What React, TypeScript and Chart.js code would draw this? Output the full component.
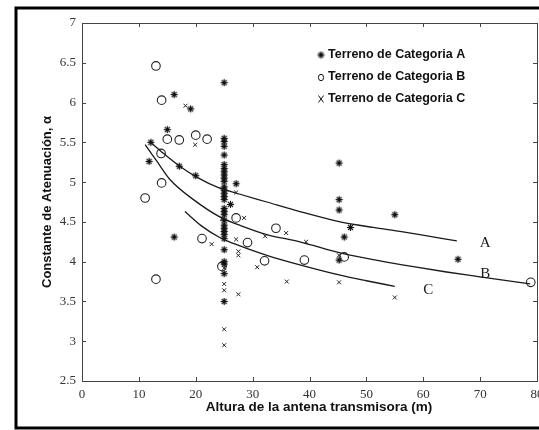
import { useEffect, useRef } from "react";
import { Chart, registerables } from "chart.js";
Chart.register(...registerables);

// Axis ticks
const xTickValues = [0, 10, 20, 30, 40, 50, 60, 70, 80];
const yTickValues = [2.5, 3, 3.5, 4, 4.5, 5, 5.5, 6, 6.5, 7];

// Terreno de Categoria A (asterisks)
const catA: [number, number][] = [
  [12.1, 5.5], [11.8, 5.26], [15.0, 5.66], [16.2, 6.1], [19.1, 5.92], [17.1, 5.2],
  [20.0, 5.08], [16.2, 4.31], [25, 6.25], [26.1, 4.72], [27.1, 4.98],
  [45.2, 5.24], [45.2, 4.78], [45.2, 4.65], [45.2, 4.02], [46.1, 4.31], [47.2, 4.43],
  [55, 4.59], [66.1, 4.03],
];
// Categoria A measurements at 25 m
const catAColumn25 = [
  5.55, 5.51, 5.45, 5.34, 5.22, 5.17, 5.13, 5.09, 5.05, 5.01, 4.94, 4.9, 4.86, 4.82,
  4.78, 4.67, 4.63, 4.59, 4.52, 4.46, 4.42, 4.38, 4.34, 4.29, 4.15, 4.0, 3.97, 3.85, 3.5,
];

// Terreno de Categoria B (circles)
const catB: [number, number][] = [
  [11.1, 4.8], [13.0, 6.46], [14.0, 6.03], [13.0, 3.78], [13.9, 5.36], [14.0, 4.99],
  [15.0, 5.54], [17.1, 5.53], [20.0, 5.59], [22.0, 5.54], [21.1, 4.29], [24.6, 3.94],
  [27.1, 4.55], [29.1, 4.24], [32.1, 4.01], [34.1, 4.42], [39.1, 4.02], [46.1, 4.06],
  [78.9, 3.74],
];

// Terreno de Categoria C (crosses)
const catC: [number, number][] = [
  [18.2, 5.96], [19.9, 5.47], [22.8, 4.22], [24.6, 4.54], [25, 3.99], [25, 3.92],
  [25, 3.72], [25, 3.64], [25, 3.15], [25, 2.95], [27.1, 4.87], [27.1, 4.28],
  [27.5, 4.13], [27.5, 4.08], [27.5, 3.59], [28.5, 4.55], [30.8, 3.93], [32.2, 4.32],
  [35.9, 4.36], [36, 3.75], [39.4, 4.25], [45.2, 4.08], [45.2, 3.74], [55, 3.55],
];

// Fitted curves
const curveA: [number, number][] = [
  [11.9, 5.51], [14, 5.38], [17, 5.21], [20.5, 5.05], [24, 4.93], [27.2, 4.86],
  [32.5, 4.75], [38.3, 4.63], [45.4, 4.5], [51.2, 4.43], [55.9, 4.38], [59.4, 4.34], [65.9, 4.26],
];
const curveB: [number, number][] = [
  [11.1, 5.47], [13.1, 5.27], [15.5, 5.03], [19.6, 4.78], [24.3, 4.56], [28, 4.45],
  [32.5, 4.34], [38.3, 4.25], [45.4, 4.11], [52.4, 4.01], [58, 3.94], [64.1, 3.87],
  [70, 3.81], [78.8, 3.72],
];
const curveC: [number, number][] = [
  [18.1, 4.63], [21, 4.45], [24.3, 4.3], [26.6, 4.23], [32.5, 4.08], [38.3, 3.96],
  [45.4, 3.83], [50, 3.76], [55, 3.69],
];

// Legend and labels
const legendLabels = ["Terreno de Categoria A", "Terreno de Categoria B", "Terreno de Categoria C"];
const curveLabels: { text: string; x: number; y: number }[] = [
  { text: "A", x: 70.9, y: 4.24 },
  { text: "B", x: 70.9, y: 3.845 },
  { text: "C", x: 60.9, y: 3.64 },
];
const xTitle = "Altura de la antena transmisora (m)";
const yTitle = "Constante de Atenuación, α";

function makeStar(): HTMLCanvasElement {
  const c = document.createElement("canvas");
  c.width = 9;
  c.height = 9;
  const g = c.getContext("2d")!;
  const cx = 4.5, cy = 4.5, r = 3.6;
  g.strokeStyle = "#111";
  g.lineWidth = 1.1;
  for (let i = 0; i < 4; i++) {
    const a = (i * Math.PI) / 4;
    g.beginPath();
    g.moveTo(cx - r * Math.cos(a), cy - r * Math.sin(a));
    g.lineTo(cx + r * Math.cos(a), cy + r * Math.sin(a));
    g.stroke();
  }
  g.fillStyle = "#111";
  g.beginPath();
  g.arc(cx, cy, 2, 0, Math.PI * 2);
  g.fill();
  return c;
}

const W = 560;
const H = 430;

export default function App() {
  const ref = useRef<HTMLCanvasElement>(null);
  useEffect(() => {
    document.body.style.margin = "0";
    const canvas = ref.current!;
    const star = makeStar();
    const pts = (arr: [number, number][]) => arr.map(([x, y]) => ({ x, y }));
    const aData = [...pts(catA), ...catAColumn25.map((y) => ({ x: 25, y }))];

    const decor = {
      id: "decor",
      beforeDatasetsDraw(chart: any) {
        const { ctx, chartArea: a, scales } = chart;
        ctx.save();
        ctx.strokeStyle = "#444";
        ctx.lineWidth = 1;
        ctx.strokeRect(a.left + 0.5, a.top + 0.5, a.right - a.left, a.bottom - a.top);
        const tl = 4;
        ctx.beginPath();
        xTickValues.forEach((v) => {
          const px = Math.round(scales.x.getPixelForValue(v)) + 0.5;
          ctx.moveTo(px, a.bottom);
          ctx.lineTo(px, a.bottom - tl);
          ctx.moveTo(px, a.top);
          ctx.lineTo(px, a.top + tl);
        });
        yTickValues.forEach((v) => {
          const py = Math.round(scales.y.getPixelForValue(v)) + 0.5;
          ctx.moveTo(a.left, py);
          ctx.lineTo(a.left + tl, py);
          ctx.moveTo(a.right, py);
          ctx.lineTo(a.right - tl, py);
        });
        ctx.stroke();
        ctx.restore();
      },
      afterDraw(chart: any) {
        const { ctx, chartArea: a, scales } = chart;
        ctx.save();
        // axis titles
        ctx.fillStyle = "#111";
        ctx.textAlign = "center";
        ctx.textBaseline = "middle";
        ctx.font = "bold 13.5px 'Liberation Sans', Arial, sans-serif";
        ctx.fillText(xTitle, 319, 407);
        ctx.save();
        ctx.translate(47.5, (a.top + a.bottom) / 2);
        ctx.rotate(-Math.PI / 2);
        ctx.font = "bold 13px 'Liberation Sans', Arial, sans-serif";
        ctx.fillText(yTitle, 0, 0);
        ctx.restore();
        // legend
        const ly = [55, 77, 99];
        const mx = 321;
        ctx.font = "bold 12.5px 'Liberation Sans', Arial, sans-serif";
        ctx.textAlign = "left";
        legendLabels.forEach((t, i) => ctx.fillText(t, 328, ly[i]));
        ctx.drawImage(star, mx - 4.5, ly[0] - 4.5);
        ctx.strokeStyle = "#111";
        ctx.lineWidth = 1;
        ctx.beginPath();
        ctx.ellipse(mx, ly[1] + 0.5, 2.6, 3.2, 0, 0, Math.PI * 2);
        ctx.stroke();
        ctx.beginPath();
        ctx.moveTo(mx - 2.5, ly[2] - 3.5);
        ctx.lineTo(mx + 2.5, ly[2] + 3.5);
        ctx.moveTo(mx + 2.5, ly[2] - 3.5);
        ctx.lineTo(mx - 2.5, ly[2] + 3.5);
        ctx.stroke();
        // curve labels
        ctx.font = "15px 'Liberation Serif', 'Times New Roman', serif";
        ctx.textAlign = "center";
        ctx.fillStyle = "#1a1a1a";
        curveLabels.forEach((c) =>
          ctx.fillText(c.text, scales.x.getPixelForValue(c.x), scales.y.getPixelForValue(c.y))
        );
        // outer frame
        ctx.strokeStyle = "#000";
        ctx.lineWidth = 3;
        ctx.strokeRect(16, 8, W, 420);
        ctx.restore();
      },
    };

    const lineStyle = {
      type: "line" as const,
      showLine: true,
      pointRadius: 0,
      borderColor: "#1a1a1a",
      borderWidth: 1.3,
      tension: 0.4,
      cubicInterpolationMode: "monotone" as const,
      fill: false,
    };

    const chart = new Chart(canvas, {
      type: "scatter",
      data: {
        datasets: [
          { ...lineStyle, label: "A", data: pts(curveA) },
          { ...lineStyle, label: "B", data: pts(curveB) },
          { ...lineStyle, label: "C", data: pts(curveC) },
          {
            label: legendLabels[0],
            data: aData,
            pointStyle: star as any,
            pointRadius: 4,
            borderColor: "#111",
            backgroundColor: "#111",
          },
          {
            label: legendLabels[1],
            data: pts(catB),
            pointStyle: "circle",
            pointRadius: 4.3,
            borderWidth: 1.1,
            borderColor: "#222",
            backgroundColor: "rgba(0,0,0,0)",
          },
          {
            label: legendLabels[2],
            data: pts(catC),
            pointStyle: "crossRot",
            pointRadius: 2.8,
            borderWidth: 1,
            borderColor: "#222",
          },
        ] as any,
      },
      options: {
        responsive: false,
        animation: false,
        events: [],
        layout: { padding: { top: 23, right: W - 537, left: 0, bottom: 0 } },
        plugins: { legend: { display: false }, tooltip: { enabled: false } },
        scales: {
          x: {
            type: "linear",
            min: 0,
            max: 80,
            afterFit: (s: any) => {
              s.height = H - 381;
            },
            grid: { display: false, drawTicks: false },
            border: { display: false },
            ticks: {
              stepSize: 10,
              autoSkip: false,
              maxRotation: 0,
              padding: 6,
              color: "#333",
              font: { family: "'Liberation Serif', 'Times New Roman', serif", size: 13 },
            },
          },
          y: {
            type: "linear",
            min: 2.5,
            max: 7,
            afterFit: (s: any) => {
              s.width = 82;
            },
            grid: { display: false, drawTicks: false },
            border: { display: false },
            ticks: {
              stepSize: 0.5,
              autoSkip: false,
              padding: 6,
              color: "#333",
              font: { family: "'Liberation Serif', 'Times New Roman', serif", size: 13 },
              callback: (v: any) => String(v),
            },
          },
        },
      },
      plugins: [decor],
    });
    return () => chart.destroy();
  }, []);
  return (
    <div style={{ width: 539, height: 430, overflow: "hidden", position: "relative", background: "#fff" }}>
      <canvas ref={ref} width={W} height={H} style={{ display: "block" }} />
    </div>
  );
}
